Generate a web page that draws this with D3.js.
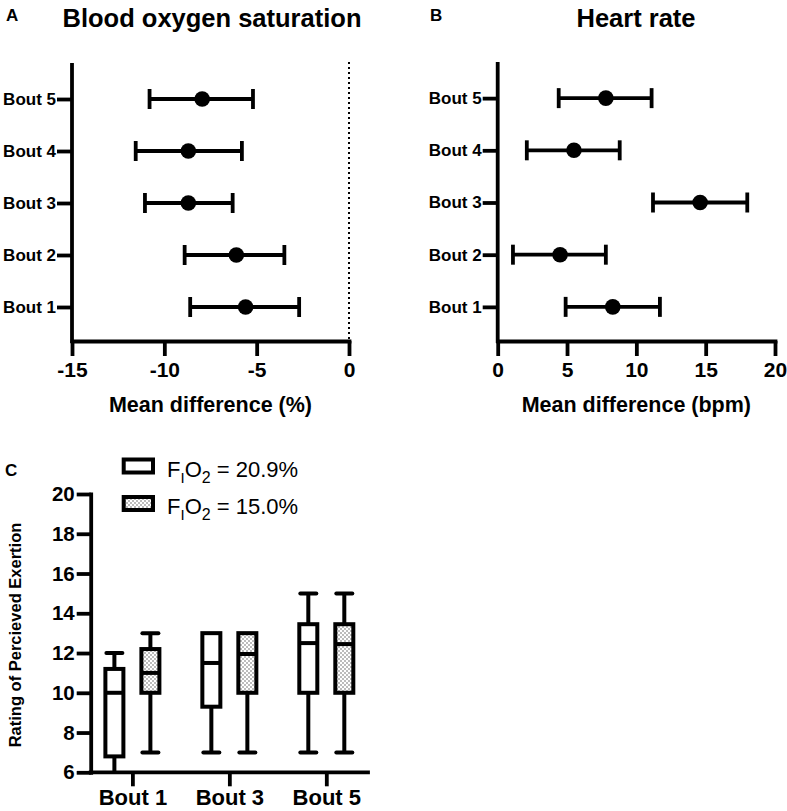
<!DOCTYPE html>
<html>
<head>
<meta charset="utf-8">
<script src="https://cdn.jsdelivr.net/npm/d3@7"></script>
<style>
  html, body { margin: 0; padding: 0; background: #fff; }
  svg { display: block; font-family: "Liberation Sans", Arial, Helvetica, sans-serif; }
</style>
</head>
<body>
<svg id="chart" width="787" height="811"></svg>
<script>
// ---------- DATA ----------
const bouts = ["Bout 1", "Bout 2", "Bout 3", "Bout 4", "Bout 5"];

// Panel A: Blood oxygen saturation, mean difference (%) with CI
const spo2Mean = [-5.6, -6.1, -8.7, -8.7, -7.95];
const spo2Low  = [-8.6, -8.9, -11.05, -11.55, -10.8];
const spo2High = [-2.7, -3.5, -6.3, -5.8, -5.2];
const spo2Ticks = [-15, -10, -5, 0];

// Panel B: Heart rate, mean difference (bpm) with CI
const hrMean = [8.3, 4.5, 14.6, 5.5, 7.8];
const hrLow  = [4.9, 1.1, 11.2, 2.1, 4.4];
const hrHigh = [11.7, 7.8, 18.0, 8.8, 11.1];
const hrTicks = [0, 5, 10, 15, 20];

// Panel C: Rating of perceived exertion box plots
const boxBouts = ["Bout 1", "Bout 3", "Bout 5"];
const conditions = ["20.9%", "15.0%"];
const rpeMin    = { "20.9%": [6, 7, 7],      "15.0%": [7, 7, 7] };
const rpeQ1     = { "20.9%": [6.8, 9.3, 10], "15.0%": [10, 10, 10] };
const rpeMedian = { "20.9%": [10, 11.5, 12.5], "15.0%": [11, 11.95, 12.45] };
const rpeQ3     = { "20.9%": [11.2, 13, 13.45], "15.0%": [12.2, 13, 13.45] };
const rpeMax    = { "20.9%": [12, 13, 15],   "15.0%": [13, 13, 15] };
const rpeTicks = [6, 8, 10, 12, 14, 16, 18, 20];

// ---------- DRAW ----------
const svg = d3.select("#chart");
const defs = svg.append("defs");
const pat = defs.append("pattern").attr("id", "dots").attr("patternUnits", "userSpaceOnUse")
  .attr("width", 4).attr("height", 4);
pat.append("rect").attr("width", 4).attr("height", 4).attr("fill", "#fff");
pat.append("circle").attr("cx", 1).attr("cy", 1).attr("r", 0.8).attr("fill", "#666");
pat.append("circle").attr("cx", 3).attr("cy", 3).attr("r", 0.8).attr("fill", "#666");

const SW = 3.8;

function styleAxis(g) {
  g.select(".domain").attr("stroke", "#000").attr("stroke-width", SW).attr("stroke-linecap", "square");
  g.selectAll(".tick line").attr("stroke", "#000").attr("stroke-width", SW);
  g.selectAll(".tick text").attr("fill", "#000").attr("font-weight", "bold");
}

function forestPanel(opts) {
  const { x0, x1, yTop, yBot, domain, ticks, mean, low, high, title, letter, letterX, titleX, xlabel, zeroLine } = opts;
  const x = d3.scaleLinear().domain(domain).range([x0, x1]);
  const y = d3.scalePoint().domain(bouts).range([yBot, yTop]).padding(0.654);

  const gx = svg.append("g").attr("transform", `translate(0,${yBot})`)
    .call(d3.axisBottom(x).tickValues(ticks).tickSize(15).tickSizeOuter(0).tickPadding(6).tickFormat(d3.format("d")));
  styleAxis(gx);
  gx.selectAll(".tick text").attr("font-size", 21);
  gx.selectAll(".tick text").text(d => d < 0 ? "-" + Math.abs(d) : d);

  if (zeroLine) {
    svg.append("line").attr("x1", x(0)).attr("x2", x(0)).attr("y1", yTop - 3).attr("y2", yBot)
      .attr("stroke", "#000").attr("stroke-width", 2).attr("stroke-dasharray", "2,3");
  }

  const gy = svg.append("g").attr("transform", `translate(${x0},0)`)
    .call(d3.axisLeft(y).tickSize(15).tickSizeOuter(0).tickPadding(1));
  gy.select(".domain").attr("d", `M0,${yBot}V${yTop}`);
  styleAxis(gy);
  gy.selectAll(".tick text").attr("font-size", 17);

  const rows = bouts.map((b, i) => ({ b, m: mean[i], lo: low[i], hi: high[i] }));
  const g = svg.append("g");
  g.selectAll(".ci").data(rows).join("line")
    .attr("x1", d => x(d.lo)).attr("x2", d => x(d.hi))
    .attr("y1", d => y(d.b)).attr("y2", d => y(d.b))
    .attr("stroke", "#000").attr("stroke-width", SW);
  g.selectAll(".capL").data(rows).join("line")
    .attr("x1", d => x(d.lo)).attr("x2", d => x(d.lo))
    .attr("y1", d => y(d.b) - 10).attr("y2", d => y(d.b) + 10)
    .attr("stroke", "#000").attr("stroke-width", SW);
  g.selectAll(".capR").data(rows).join("line")
    .attr("x1", d => x(d.hi)).attr("x2", d => x(d.hi))
    .attr("y1", d => y(d.b) - 10).attr("y2", d => y(d.b) + 10)
    .attr("stroke", "#000").attr("stroke-width", SW);
  g.selectAll(".dot").data(rows).join("circle")
    .attr("cx", d => x(d.m)).attr("cy", d => y(d.b)).attr("r", 7.8).attr("fill", "#000");

  svg.append("text").attr("x", letterX).attr("y", 21).attr("font-size", 17).attr("font-weight", "bold").text(letter);
  svg.append("text").attr("x", titleX).attr("y", 27).attr("text-anchor", "middle")
    .attr("font-size", 25.5).attr("font-weight", "bold").text(title);
  svg.append("text").attr("x", (x0 + x1) / 2).attr("y", 412).attr("text-anchor", "middle")
    .attr("font-size", 21.5).attr("font-weight", "bold").text(xlabel);
}

forestPanel({ x0: 72, x1: 349, yTop: 65, yBot: 341, domain: [-15, 0], ticks: spo2Ticks,
  mean: spo2Mean, low: spo2Low, high: spo2High, title: "Blood oxygen saturation",
  letter: "A", letterX: 6, titleX: 212, xlabel: "Mean difference (%)", zeroLine: true });

forestPanel({ x0: 497.7, x1: 775, yTop: 64, yBot: 341, domain: [0, 20], ticks: hrTicks,
  mean: hrMean, low: hrLow, high: hrHigh, title: "Heart rate",
  letter: "B", letterX: 430, titleX: 636, xlabel: "Mean difference (bpm)", zeroLine: false });

// ---------- Panel C ----------
const cx0 = 90.7, cx1 = 368, cyTop = 494, cyBot = 772.3;
const xc = d3.scalePoint().domain(boxBouts).range([cx0, cx1]).padding(0.43);
const xs = d3.scaleBand().domain(conditions).range([-36, 36]);
const yc = d3.scaleLinear().domain([6, 20]).range([cyBot, cyTop]);

const gcy = svg.append("g").attr("transform", `translate(${cx0},0)`)
  .call(d3.axisLeft(yc).tickValues(rpeTicks).tickSize(14).tickSizeOuter(0).tickPadding(2));
styleAxis(gcy);
gcy.selectAll(".tick text").attr("font-size", 20.5);

const gcx = svg.append("g").attr("transform", `translate(0,${cyBot})`)
  .call(d3.axisBottom(xc).tickSize(14).tickSizeOuter(0).tickPadding(3));
gcx.select(".domain").attr("d", `M${cx0},0H${cx1}`);
styleAxis(gcx);
gcx.selectAll(".tick text").attr("font-size", 22);

const boxes = [];
conditions.forEach(c => boxBouts.forEach((b, i) => boxes.push({
  c, b, min: rpeMin[c][i], q1: rpeQ1[c][i], med: rpeMedian[c][i], q3: rpeQ3[c][i], max: rpeMax[c][i]
})));
const bw = 18, cw = 16;
const bg = svg.append("g");
const cxOf = d => xc(d.b) + xs(d.c) + xs.bandwidth() / 2;
bg.selectAll(".wh").data(boxes).join("line")
  .attr("x1", cxOf).attr("x2", cxOf).attr("y1", d => yc(d.min)).attr("y2", d => yc(d.max))
  .attr("stroke", "#000").attr("stroke-width", 4);
bg.selectAll(".capLo").data(boxes.filter(d => d.min > 6)).join("line")
  .attr("x1", d => cxOf(d) - cw / 2).attr("x2", d => cxOf(d) + cw / 2)
  .attr("y1", d => yc(d.min)).attr("y2", d => yc(d.min))
  .attr("stroke", "#000").attr("stroke-width", 4).attr("stroke-linecap", "round");
bg.selectAll(".capHi").data(boxes.filter(d => d.max > d.q3)).join("line")
  .attr("x1", d => cxOf(d) - cw / 2).attr("x2", d => cxOf(d) + cw / 2)
  .attr("y1", d => yc(d.max)).attr("y2", d => yc(d.max))
  .attr("stroke", "#000").attr("stroke-width", 4).attr("stroke-linecap", "round");
bg.selectAll(".box").data(boxes).join("rect")
  .attr("x", d => cxOf(d) - bw / 2).attr("width", bw)
  .attr("y", d => yc(d.q3)).attr("height", d => yc(d.q1) - yc(d.q3))
  .attr("fill", d => d.c === "15.0%" ? "url(#dots)" : "#fff")
  .attr("stroke", "#000").attr("stroke-width", 4);
bg.selectAll(".med").data(boxes).join("line")
  .attr("x1", d => cxOf(d) - bw / 2).attr("x2", d => cxOf(d) + bw / 2)
  .attr("y1", d => yc(d.med)).attr("y2", d => yc(d.med))
  .attr("stroke", "#000").attr("stroke-width", 4);

svg.append("text").attr("transform", `translate(21,635) rotate(-90)`).attr("text-anchor", "middle")
  .attr("font-size", 16.5).attr("font-weight", "bold").text("Rating of Percieved Exertion");
svg.append("text").attr("x", 5).attr("y", 476).attr("font-size", 17).attr("font-weight", "bold").text("C");

// Legend
const legY = [459.5, 497];
conditions.forEach((c, i) => {
  svg.append("rect").attr("x", 123.7).attr("y", legY[i]).attr("width", 29.3).attr("height", 13)
    .attr("fill", c === "15.0%" ? "url(#dots)" : "#fff").attr("stroke", "#000").attr("stroke-width", 4);
  const t = svg.append("text").attr("x", 167).attr("y", legY[i] + 17).attr("font-size", 22);
  t.append("tspan").text("F");
  t.append("tspan").attr("font-size", 15).attr("dy", 6).text("I");
  t.append("tspan").attr("dy", -6).text("O");
  t.append("tspan").attr("font-size", 16).attr("dy", 6).text("2");
  t.append("tspan").attr("dy", -6).text(" = " + c);
});
</script>
</body>
</html>
